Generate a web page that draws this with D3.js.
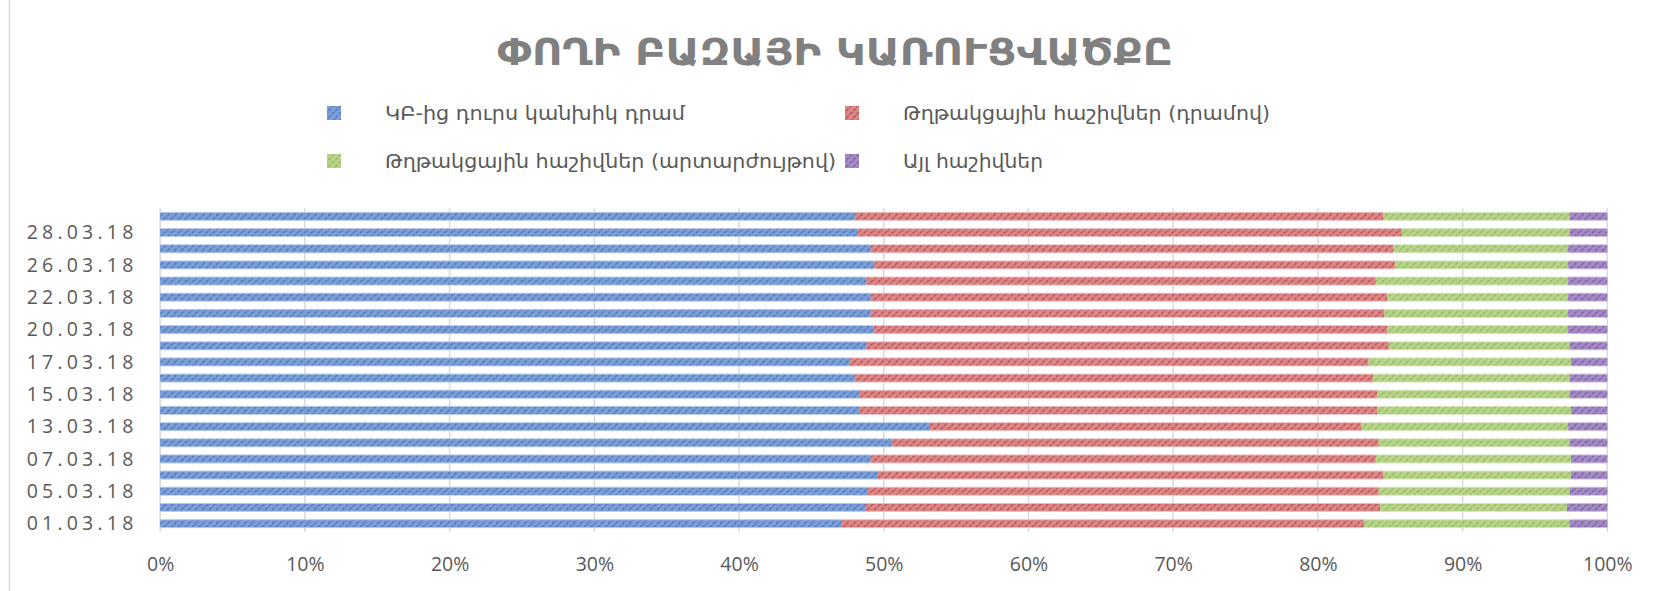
<!DOCTYPE html>
<html>
<head>
<meta charset="utf-8">
<script src="https://cdn.jsdelivr.net/npm/d3@7"></script>
<style>
  html, body { margin: 0; padding: 0; background: #ffffff; }
  svg { display: block; }
</style>
</head>
<body>
<svg id="chart" width="1654" height="591"></svg>
<script>
// ---- data (bottom row first) ----
const dates = ["01.03.18","02.03.18","05.03.18","06.03.18","07.03.18","12.03.18","13.03.18","14.03.18","15.03.18","16.03.18","17.03.18","19.03.18","20.03.18","21.03.18","22.03.18","23.03.18","26.03.18","27.03.18","28.03.18","29.03.18"];
const cashOutside = [47.1,48.7,48.9,49.6,49.1,50.6,53.2,48.3,48.3,48.0,47.6,48.8,49.3,49.1,49.1,48.8,49.4,49.1,48.2,48.0];
const corrAMD     = [36.1,35.6,35.3,34.9,34.9,33.6,29.8,35.8,35.8,35.8,35.9,36.1,35.5,35.5,35.7,35.2,36.0,36.1,37.6,36.5];
const corrFX      = [14.2,12.9,13.2,13.0,13.5,13.2,14.3,13.4,13.3,13.6,14.0,12.5,12.5,12.7,12.5,13.3,12.0,12.1,11.6,12.9];
const otherAcc    = [2.6,2.8,2.6,2.5,2.5,2.6,2.7,2.5,2.6,2.6,2.5,2.6,2.7,2.7,2.7,2.7,2.7,2.7,2.6,2.6];
const seriesNames = ["ԿԲ-ից դուրս կանխիկ դրամ","Թղթակցային հաշիվներ (դրամով)","Թղթակցային հաշիվներ (արտարժույթով)","Այլ հաշիվներ"];
const xTicks = [0,0.1,0.2,0.3,0.4,0.5,0.6,0.7,0.8,0.9,1];
const title = "ՓՈՂԻ ԲԱԶԱՅԻ ԿԱՌՈՒՑՎԱԾՔԸ";

// ---- styles ----
const keys = ["s0","s1","s2","s3"];
const baseCol = ["#7c9fd6","#d9898a","#b7d38c","#a58bc4"];
const lineCol = ["#4a75c0","#c24a4c","#93bb57","#7b5ea6"];
const haloCol = ["#b7cbea","#ecc0c0","#d8e8bf","#cfc1e0"];

const rows = dates.map((d,i) => ({date:d, s0:cashOutside[i], s1:corrAMD[i], s2:corrFX[i], s3:otherAcc[i]}));
const stack = d3.stack().keys(keys).offset(d3.stackOffsetExpand);
const layers = stack(rows);

const svg = d3.select("#chart");
const plot = {left:160.2, right:1607.3, top:208.3, bottom:531.7};

const x = d3.scaleLinear().domain([0,1]).range([plot.left, plot.right]);
const y = d3.scaleBand().domain(dates.slice().reverse()).range([plot.top, plot.bottom])
  .paddingInner(0.565).paddingOuter(0.2825);

// patterns
const defs = svg.append("defs");
keys.forEach((k,i) => {
  const p = defs.append("pattern").attr("id","pat"+i)
    .attr("patternUnits","userSpaceOnUse").attr("width",7).attr("height",7)
    .attr("x", plot.left).attr("y", 0);
  p.append("rect").attr("width",7).attr("height",7).attr("fill",baseCol[i]);
  p.append("path").attr("d","M0,6 L2.5,3.5 M3.5,2.5 L6,0 M-1,1 L1,-1 M6,8 L8,6")
    .attr("stroke",lineCol[i]).attr("stroke-width",1.4).attr("fill","none");
});

// chart border (left edge visible)
svg.append("line").attr("x1",9.5).attr("x2",9.5).attr("y1",0).attr("y2",591)
  .attr("stroke","#d9d9d9").attr("stroke-width",1.5);

// gridlines
svg.append("g").selectAll("line").data(xTicks).join("line")
  .attr("x1",d=>x(d)).attr("x2",d=>x(d)).attr("y1",plot.top).attr("y2",plot.bottom)
  .attr("stroke","#d9d9d9").attr("stroke-width",1.5);

// bar halos (soft edges)
svg.append("g").selectAll("g").data(layers).join("g")
  .attr("fill",(d,i)=>haloCol[i])
  .selectAll("rect").data(d=>d).join("rect")
  .attr("x",d=>x(d[0])).attr("width",d=>x(d[1])-x(d[0]))
  .attr("y",d=>y(d.data.date)-1).attr("height",y.bandwidth()+2);

// bars
svg.append("g").selectAll("g").data(layers).join("g")
  .attr("fill",(d,i)=>"url(#pat"+i+")")
  .selectAll("rect").data(d=>d).join("rect")
  .attr("x",d=>x(d[0])).attr("width",d=>x(d[1])-x(d[0]))
  .attr("y",d=>y(d.data.date)).attr("height",y.bandwidth());

// x axis (labels only)
const xAxis = d3.axisBottom(x).tickValues(xTicks).tickFormat(d3.format(".0%")).tickSize(0).tickPadding(0);
const gx = svg.append("g").attr("transform","translate(0,"+plot.bottom+")").call(xAxis);
gx.select(".domain").remove();
gx.selectAll("text").attr("y",39).attr("dy",0)
  .attr("font-family","'Open Sans', 'Liberation Sans', sans-serif").attr("font-size","19.5px").attr("fill","#595959");

// y axis (every other label)
const yAxis = d3.axisLeft(y).tickValues(dates.filter((d,i)=>i%2===0)).tickSize(0).tickPadding(0);
const gy = svg.append("g").attr("transform","translate(137.5,0)").call(yAxis);
gy.select(".domain").remove();
gy.selectAll("text").attr("dy","0.35em")
  .attr("font-family","'Open Sans', 'Liberation Sans', sans-serif").attr("font-size","19.5px")
  .attr("letter-spacing","4.2px").attr("fill","#595959");

// title
svg.append("text").attr("x",835).attr("y",65).attr("text-anchor","middle")
  .attr("font-family","'DejaVu Sans', sans-serif").attr("font-weight","bold").attr("font-size","37px")
  .attr("fill","#808080").attr("textLength",676).attr("lengthAdjust","spacingAndGlyphs").text(title);

// legend
const legendPos = [
  {sx:327, tx:385, cy:113, w:300},
  {sx:845, tx:903, cy:113, w:367},
  {sx:327, tx:385, cy:161, w:451},
  {sx:845, tx:903, cy:161, w:140}
];
const lg = svg.append("g");
seriesNames.forEach((name,i) => {
  const p = legendPos[i];
  lg.append("rect").attr("x",p.sx).attr("y",p.cy-7).attr("width",14).attr("height",14)
    .attr("fill","url(#pat"+i+")");
  lg.append("text").attr("x",p.tx).attr("y",p.cy).attr("dy","0.35em")
    .attr("font-family","'DejaVu Sans', sans-serif").attr("font-size","20px").attr("fill","#595959")
    .attr("textLength",p.w).attr("lengthAdjust","spacingAndGlyphs").text(name);
});
</script>
</body>
</html>
